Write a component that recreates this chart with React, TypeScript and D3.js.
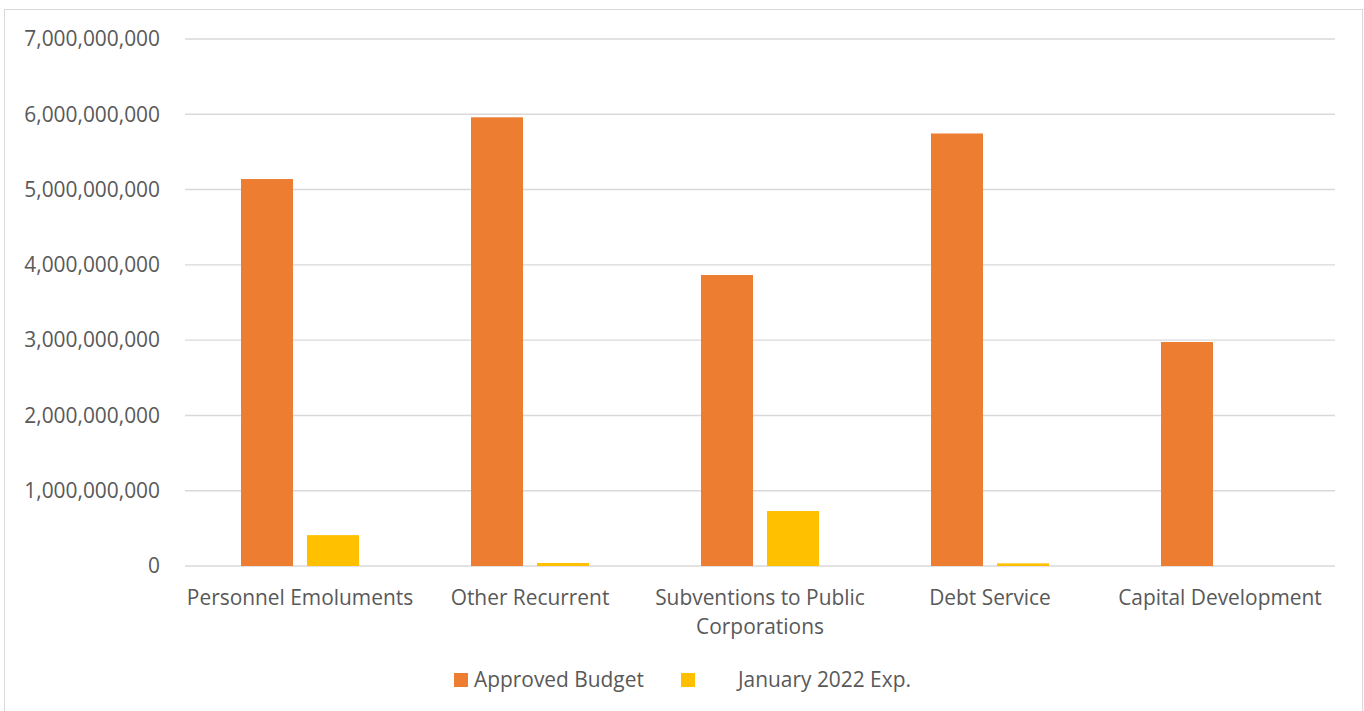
import React from "react";
import * as d3 from "d3";

const categories = [
  ["Personnel Emoluments"],
  ["Other Recurrent"],
  ["Subventions to Public", "Corporations"],
  ["Debt Service"],
  ["Capital Development"],
];
const seriesNames = ["Approved Budget", "January 2022 Exp."];
const approvedBudget = [5140000000, 5960000000, 3865000000, 5745000000, 2975000000];
const january2022Exp = [410000000, 40000000, 730000000, 35000000, 0];
const yTicks = [0, 1e9, 2e9, 3e9, 4e9, 5e9, 6e9, 7e9];
const colors = ["#ED7D31", "#FFC000"];

const W = 1364;
const H = 711;
const FONT = "'Open Sans', 'Noto Sans', sans-serif";
const TEXT = "#595959";
const FS = 20.9;

export default function App() {
  const left = 185, right = 1335, top = 39, bottom = 566;
  const x = d3.scaleBand<number>().domain(d3.range(categories.length)).range([left, right]).padding(0);
  const y = d3.scaleLinear().domain([0, 7e9]).range([bottom, top]);
  const barW = 52, gap = 14;
  const series = [approvedBudget, january2022Exp];
  const fmt = d3.format(",");

  return (
    <svg width={W} height={H} style={{ position: "absolute", left: 0, top: 0, background: "#fff" }}>
      <rect x={4.5} y={9.5} width={W - 6} height={H + 10} fill="#fff" stroke="#d9d9d9" />
      {yTicks.map((t) => (
        <g key={t}>
          <line x1={left} x2={right} y1={y(t)} y2={y(t)} stroke="#d9d9d9" strokeWidth={1.4} />
          <text x={160} y={y(t)} dy="0.35em" textAnchor="end" fontFamily={FONT} fontSize={FS} fill={TEXT}>
            {fmt(t)}
          </text>
        </g>
      ))}
      {categories.map((c, i) => {
        const cx = x(i)! + x.bandwidth() / 2;
        return (
          <g key={i}>
            {series.map((s, k) => {
              const bx = cx - gap / 2 - barW + k * (barW + gap);
              const yv = y(s[i]);
              return s[i] > 0 ? (
                <rect key={k} x={bx} y={yv} width={barW} height={bottom - yv} fill={colors[k]} />
              ) : null;
            })}
            {c.map((line, li) => (
              <text key={li} x={cx} y={605 + li * 29} textAnchor="middle" fontFamily={FONT} fontSize={FS} fill={TEXT}>
                {line}
              </text>
            ))}
          </g>
        );
      })}
      <rect x={454} y={673} width={14} height={14} fill={colors[0]} />
      <text x={474} y={680} dy="0.35em" fontFamily={FONT} fontSize={FS} fill={TEXT}>{seriesNames[0]}</text>
      <rect x={681} y={673} width={14} height={14} fill={colors[1]} />
      <text x={738} y={680} dy="0.35em" fontFamily={FONT} fontSize={FS} fill={TEXT}>{seriesNames[1]}</text>
    </svg>
  );
}
